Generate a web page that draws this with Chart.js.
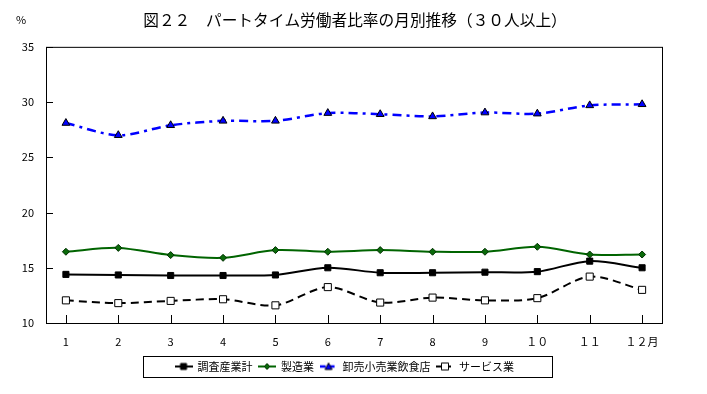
<!DOCTYPE html>
<html>
<head>
<meta charset="utf-8">
<script src="https://cdn.jsdelivr.net/npm/chart.js@4/dist/chart.umd.min.js"></script>
<style>
  body { margin: 0; background: #fff; }
  #wrap { width: 707px; height: 394px; position: relative; }
</style>
</head>
<body>
<div id="wrap"><canvas id="chart"></canvas></div>
<script>
const months = ["1", "2", "3", "4", "5", "6", "7", "8", "9", "１０", "１１", "１２月"];
const total = [14.4, 14.35, 14.3, 14.3, 14.35, 15.0, 14.55, 14.55, 14.6, 14.65, 15.6, 15.0];
const manufacturing = [16.45, 16.8, 16.15, 15.9, 16.6, 16.45, 16.6, 16.45, 16.45, 16.9, 16.2, 16.2];
const wholesale = [28.1, 27.0, 27.9, 28.3, 28.3, 29.0, 28.9, 28.7, 29.05, 28.95, 29.7, 29.8];
const services = [12.05, 11.8, 12.0, 12.15, 11.6, 13.25, 11.85, 12.3, 12.05, 12.25, 14.2, 13.0];

const font = "'Noto Sans CJK JP', 'Noto Sans', sans-serif";

const toPoints = (arr) => arr.map((v, i) => ({ x: i + 1, y: v }));

// small legend swatch: a line piece with the marker on it
function swatch(color, dash, width, marker, fill, stroke) {
  const c = document.createElement("canvas");
  c.width = 18;
  c.height = 10;
  const g = c.getContext("2d");
  g.strokeStyle = color;
  g.lineWidth = width;
  g.setLineDash(dash);
  g.beginPath();
  g.moveTo(0, 5);
  g.lineTo(18, 5);
  g.stroke();
  g.setLineDash([]);
  g.fillStyle = fill;
  g.strokeStyle = stroke;
  g.lineWidth = 1;
  g.beginPath();
  if (marker === "rect") g.rect(6, 2, 6, 6);
  if (marker === "hollow") g.rect(5.5, 1.5, 7, 7);
  if (marker === "diamond") { g.moveTo(9, 2); g.lineTo(12, 5); g.lineTo(9, 8); g.lineTo(6, 5); g.closePath(); }
  if (marker === "tri") { g.moveTo(9, 1.5); g.lineTo(12.5, 8); g.lineTo(5.5, 8); g.closePath(); }
  g.fill();
  g.stroke();
  return c;
}

const swatches = [
  swatch("#000", [], 2, "rect", "#000", "#000"),
  swatch("#006400", [], 2, "diamond", "#0a6a0a", "#003000"),
  swatch("#0000ff", [6, 3], 2.5, "tri", "#0000ff", "#000"),
  swatch("#000", [6, 3], 2, "hollow", "#fff", "#000"),
];

const framePlugin = {
  id: "frame",
  afterLayout(chart) {
    // title centred over the whole page, legend a bit right like the original
    chart.titleBlock.right += 48;
    chart.legend.right += 27;
  },
  afterDraw(chart) {
    const { ctx, chartArea: a, legend, scales } = chart;
    ctx.save();
    ctx.strokeStyle = "#000";
    ctx.lineWidth = 1;
    ctx.strokeRect(a.left + 0.5, a.top + 0.5, a.right - a.left, a.bottom - a.top);
    // inner tick marks
    ctx.beginPath();
    scales.y.ticks.forEach((t) => {
      const y = Math.round(scales.y.getPixelForValue(t.value)) + 0.5;
      ctx.moveTo(a.left, y);
      ctx.lineTo(a.left + 7, y);
    });
    scales.x.ticks.forEach((t) => {
      const x = Math.round(scales.x.getPixelForValue(t.value)) + 0.5;
      ctx.moveTo(x, a.bottom);
      ctx.lineTo(x, a.bottom - 8);
    });
    ctx.stroke();
    // legend box
    const boxes = legend.legendHitBoxes;
    const l = Math.min(...boxes.map((b) => b.left)) - 32;
    const r = Math.max(...boxes.map((b) => b.left + b.width)) + 38;
    const t = boxes[0].top - 5;
    ctx.strokeRect(Math.round(l) + 0.5, Math.round(t) + 0.5, Math.round(r - l), 21);
    // unit label
    ctx.fillStyle = "#000";
    ctx.font = "11px " + font;
    ctx.textBaseline = "middle";
    ctx.fillText("%", 16, 20);
    ctx.restore();
  },
};

new Chart(document.querySelector("#chart"), {
  type: "line",
  data: {
    datasets: [
      {
        label: "調査産業計",
        data: toPoints(total),
        borderColor: "#000",
        backgroundColor: "#000",
        borderWidth: 2,
        pointStyle: "rect",
        pointRadius: 4.3,
        pointBorderWidth: 1,
        pointBorderColor: "#000",
      },
      {
        label: "製造業",
        data: toPoints(manufacturing),
        borderColor: "#006400",
        backgroundColor: "#0a6a0a",
        borderWidth: 2,
        pointStyle: "rectRot",
        pointRadius: 3.5,
        pointBorderWidth: 1,
        pointBorderColor: "#003000",
      },
      {
        label: "卸売小売業飲食店",
        data: toPoints(wholesale),
        borderColor: "#0000ff",
        backgroundColor: "#0000ff",
        borderWidth: 2.5,
        borderDash: [9, 5, 3, 5],
        pointStyle: "triangle",
        pointRadius: 4.5,
        pointBorderWidth: 1,
        pointBorderColor: "#000",
      },
      {
        label: "サービス業",
        data: toPoints(services),
        borderColor: "#000",
        backgroundColor: "#fff",
        borderWidth: 2,
        borderDash: [8, 5],
        pointStyle: "rect",
        pointRadius: 5,
        pointBorderWidth: 1,
        pointBorderColor: "#000",
      },
    ],
  },
  options: {
    responsive: true,
    maintainAspectRatio: false,
    animation: false,
    elements: { line: { tension: 0.3 } },
    layout: { padding: { top: 0, right: 45, bottom: 12, left: 0 } },
    plugins: {
      tooltip: { enabled: false },
      title: {
        display: true,
        text: "図２２　パートタイム労働者比率の月別推移（３０人以上）",
        color: "#000",
        font: { family: font, size: 15.7, weight: "normal" },
        padding: { top: 11, bottom: 17 },
      },
      legend: {
        position: "bottom",
        labels: {
          color: "#000",
          font: { family: font, size: 11 },
          usePointStyle: true,
          pointStyleWidth: 17,
          padding: 6,
          generateLabels(chart) {
            const items = Chart.defaults.plugins.legend.labels.generateLabels(chart);
            return items.map((it, i) => ({ ...it, pointStyle: swatches[i] }));
          },
        },
      },
    },
    scales: {
      x: {
        type: "linear",
        min: 0.62,
        max: 12.38,
        afterBuildTicks(scale) {
          scale.ticks = months.map((_, i) => ({ value: i + 1 }));
        },
        afterFit(scale) {
          scale.height = 32;
        },
        border: { display: false },
        grid: { display: false },
        ticks: {
          color: "#000",
          font: { family: font, size: 11 },
          padding: 4,
          maxRotation: 0,
          autoSkip: false,
          callback: (v) => months[v - 1],
        },
      },
      y: {
        min: 10,
        max: 35,
        afterFit(scale) {
          scale.width = 46;
        },
        border: { display: false },
        grid: { display: false },
        ticks: {
          stepSize: 5,
          color: "#000",
          font: { family: font, size: 11 },
          padding: 4,
        },
      },
    },
  },
  plugins: [framePlugin],
});
</script>
</body>
</html>
